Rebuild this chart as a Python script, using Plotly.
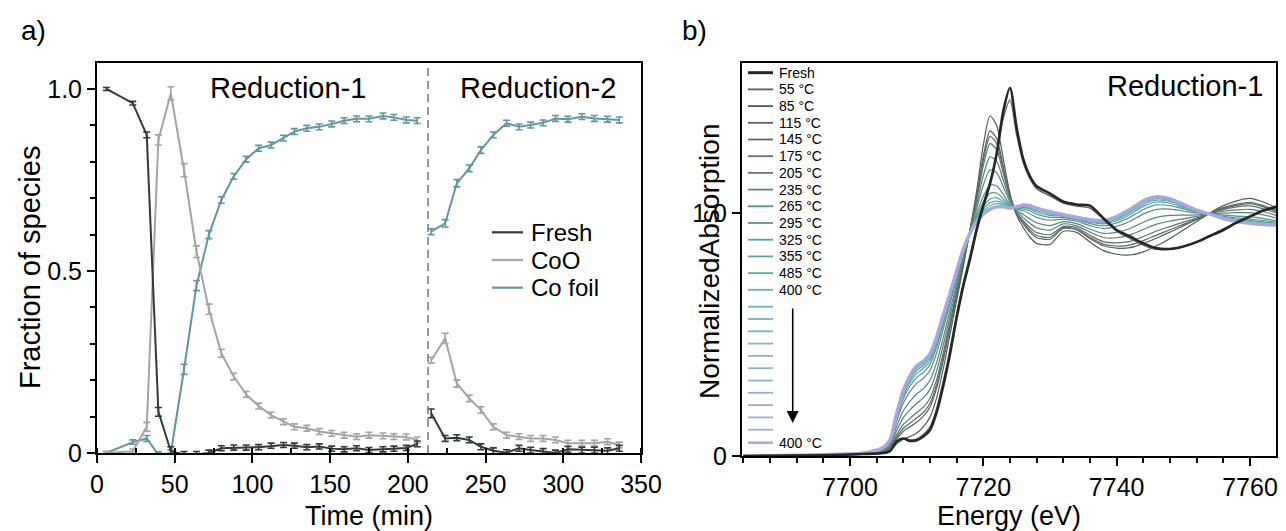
import plotly.graph_objects as go

W, H = 1286, 531

# ---------------- panel a) : fraction of species vs time ----------------
time_red1 = [6, 23, 32, 39.5, 47.5, 56, 64, 72, 80, 88, 96, 104, 112, 120, 127, 135,
             143, 151, 159, 167, 175, 184, 191, 199, 206]
fresh_red1 = [1.0, 0.961, 0.874, 0.113, 0.005, -0.004, -0.004, 0.0, 0.013, 0.015, 0.015, 0.016,
              0.02, 0.022, 0.02, 0.016, 0.018, 0.012, 0.01, 0.013, 0.008, 0.01, 0.012, 0.014, 0.025]
fresh_red1_err = [0.004, 0.005, 0.008, 0.012, 0.012, 0.008, 0.008, 0.008, 0.007, 0.007, 0.007, 0.007,
                  0.007, 0.007, 0.007, 0.007, 0.007, 0.007, 0.007, 0.007, 0.007, 0.007, 0.007, 0.007, 0.008]
coo_red1 = [0.0, 0.005, 0.072, 0.86, 0.988, 0.777, 0.553, 0.395, 0.274, 0.21, 0.161, 0.129,
            0.104, 0.086, 0.072, 0.068, 0.059, 0.054, 0.049, 0.045, 0.049, 0.047, 0.045, 0.044, 0.036]
coo_red1_err = [0.004, 0.006, 0.012, 0.014, 0.018, 0.018, 0.016, 0.014, 0.011, 0.009, 0.008, 0.008,
                0.008, 0.008, 0.008, 0.008, 0.008, 0.008, 0.008, 0.008, 0.008, 0.008, 0.008, 0.008, 0.008]
foil_red1 = [0.0, 0.03, 0.04, -0.005, 0.0, 0.23, 0.46, 0.60, 0.695, 0.76, 0.807, 0.837,
             0.846, 0.865, 0.883, 0.892, 0.896, 0.904, 0.913, 0.918, 0.918, 0.926, 0.922, 0.915, 0.913]
foil_red1_err = [0.004, 0.006, 0.008, 0.008, 0.008, 0.014, 0.014, 0.011, 0.009, 0.008, 0.008, 0.008,
                 0.008, 0.008, 0.008, 0.008, 0.008, 0.008, 0.008, 0.008, 0.008, 0.008, 0.008, 0.008, 0.008]

time_red2 = [215, 224, 231.5, 239.5, 247, 255, 263.5, 271.5, 279, 287, 295, 303, 312, 320, 328.5, 336]
fresh_red2 = [0.109, 0.040, 0.042, 0.036, 0.017, 0.006, 0.001, 0.013, 0.008, 0.004, 0.0, 0.010,
              0.008, 0.008, 0.006, 0.013]
fresh_red2_err = [0.012, 0.008, 0.008, 0.008, 0.008, 0.008, 0.008, 0.008, 0.008, 0.008, 0.008, 0.008,
                  0.008, 0.008, 0.008, 0.008]
coo_red2 = [0.255, 0.315, 0.191, 0.150, 0.118, 0.072, 0.049, 0.045, 0.040, 0.040, 0.036, 0.027,
            0.027, 0.027, 0.031, 0.022]
coo_red2_err = [0.008, 0.014, 0.010, 0.009, 0.009, 0.008, 0.008, 0.008, 0.008, 0.008, 0.008, 0.008,
                0.008, 0.008, 0.008, 0.008]
foil_red2 = [0.608, 0.631, 0.741, 0.782, 0.832, 0.874, 0.906, 0.896, 0.901, 0.907, 0.919, 0.917,
             0.924, 0.919, 0.917, 0.915]
foil_red2_err = [0.008, 0.01, 0.01, 0.009, 0.009, 0.008, 0.008, 0.008, 0.008, 0.008, 0.008, 0.008,
                 0.008, 0.008, 0.008, 0.008]

species_names = ["Fresh", "CoO", "Co foil"]
species_colors = ["#2f3b3b", "#a4a4a4", "#64959f"]
split_time = 213

# ---------------- panel b) : XANES spectra ----------------
energy = [7684, 7696, 7702, 7705, 7706, 7707, 7708, 7709, 7710, 7711, 7712, 7713, 7714, 7715,
          7716, 7717, 7718, 7719, 7720, 7721, 7722, 7723, 7724, 7725, 7726, 7727, 7728, 7730,
          7732, 7734, 7736, 7738, 7740, 7742, 7744, 7746, 7748, 7750, 7752, 7754, 7756, 7758,
          7760, 7762, 7764]
mu_fresh = [0.000, 0.003, 0.008, 0.012, 0.020, 0.060, 0.072, 0.062, 0.065, 0.080, 0.107, 0.180,
            0.290, 0.420, 0.570, 0.700, 0.810, 0.930, 1.030, 1.120, 1.245, 1.420, 1.515, 1.350,
            1.220, 1.150, 1.110, 1.080, 1.046, 1.035, 1.030, 0.978, 0.930, 0.903, 0.875, 0.855,
            0.852, 0.862, 0.880, 0.905, 0.930, 0.960, 0.985, 1.010, 1.025]
mu_55 = [0.000, 0.003, 0.008, 0.013, 0.022, 0.058, 0.072, 0.066, 0.070, 0.088, 0.120, 0.196,
         0.310, 0.440, 0.585, 0.715, 0.825, 0.945, 1.040, 1.130, 1.240, 1.390, 1.465, 1.320,
         1.205, 1.140, 1.100, 1.070, 1.040, 1.028, 1.020, 0.975, 0.925, 0.895, 0.868, 0.850,
         0.850, 0.862, 0.882, 0.908, 0.935, 0.962, 0.988, 1.012, 1.030]
mu_85 = [0.000, 0.003, 0.008, 0.015, 0.025, 0.050, 0.070, 0.080, 0.095, 0.120, 0.160, 0.240,
         0.360, 0.500, 0.640, 0.780, 0.930, 1.090, 1.280, 1.400, 1.360, 1.220, 1.080, 0.990,
         0.940, 0.900, 0.875, 0.870, 0.925, 0.920, 0.880, 0.845, 0.830, 0.827, 0.840, 0.865,
         0.895, 0.930, 0.965, 1.000, 1.030, 1.050, 1.060, 1.045, 1.020]
mu_115 = [0, .003, .009, .018, .031, .070, .102, .120, .139, .163, .202, .280, .395, .527, .659,
          .791, .928, 1.070, 1.234, 1.338, 1.306, 1.189, 1.070, .996, .955, .921, .898, .892,
          .936, .930, .895, .865, .855, .857, .874, .897, .921, .947, .973, .999, 1.022, 1.036,
          1.044, 1.030, 1.009]
mu_145 = [0, .003, .009, .019, .034, .078, .114, .135, .156, .179, .217, .295, .408, .537, .666,
          .795, .927, 1.063, 1.217, 1.315, 1.286, 1.177, 1.067, .998, .960, .929, .907, .900,
          .940, .934, .900, .872, .864, .868, .886, .909, .931, .953, .975, .999, 1.018, 1.031,
          1.038, 1.025, 1.005]
mu_175 = [0, .004, .009, .021, .037, .088, .130, .155, .178, .201, .238, .315, .426, .551, .676,
          .801, .926, 1.053, 1.195, 1.285, 1.260, 1.162, 1.062, 1.001, .968, .939, .919, .911,
          .945, .939, .908, .882, .877, .883, .903, .926, .944, .962, .979, .999, 1.014, 1.025,
          1.029, 1.017, .999]
mu_205 = [0, .004, .010, .024, .043, .105, .158, .190, .216, .239, .274, .350, .457, .575, .693,
          .811, .924, 1.035, 1.155, 1.231, 1.213, 1.134, 1.054, 1.005, .981, .957, .939, .929,
          .955, .947, .921, .899, .898, .910, .932, .954, .967, .976, .986, .998, 1.007, 1.013,
          1.015, 1.005, .989]
mu_235 = [0, .004, .010, .027, .048, .123, .186, .225, .255, .277, .311, .385, .488, .599, .710,
          .821, .922, 1.018, 1.115, 1.177, 1.166, 1.107, 1.045, 1.010, .994, .975, .959, .948,
          .964, .956, .933, .916, .920, .936, .962, .982, .990, .991, .992, .997, .999, 1.001,
          1.001, .992, .979]
mu_265 = [0, .005, .011, .030, .055, .143, .218, .265, .299, .320, .352, .425, .523, .626, .729,
          .832, .920, .998, 1.069, 1.115, 1.112, 1.076, 1.036, 1.016, 1.009, .996, .982, .970,
          .975, .966, .948, .936, .945, .966, .995, 1.015, 1.016, 1.008, 1.000, .996, .991, .987,
          .985, .977, .968]
mu_295 = [0, .005, .011, .032, .058, .154, .236, .288, .323, .344, .376, .448, .543, .641, .740,
          .838, .918, .986, 1.044, 1.081, 1.082, 1.058, 1.030, 1.019, 1.017, 1.008, .995, .982,
          .981, .972, .956, .947, .959, .983, 1.014, 1.033, 1.030, 1.017, 1.004, .996, .986, .980,
          .975, .969, .962]
mu_325 = [0, .005, .012, .033, .061, .161, .248, .303, .340, .360, .391, .463, .556, .651, .747,
          .842, .918, .979, 1.026, 1.057, 1.062, 1.047, 1.027, 1.021, 1.023, 1.016, 1.004, .990,
          .986, .975, .962, .955, .968, .994, 1.027, 1.045, 1.040, 1.023, 1.007, .996, .983, .974,
          .969, .963, .958]
mu_355 = [0, .005, .012, .034, .062, .166, .256, .313, .351, .371, .402, .473, .565, .658, .752,
          .845, .917, .974, 1.015, 1.042, 1.049, 1.039, 1.024, 1.023, 1.027, 1.021, 1.010, .996,
          .988, .978, .966, .959, .974, 1.002, 1.035, 1.053, 1.047, 1.028, 1.009, .995, .981, .971,
          .965, .959, .955]
mu_485 = [0, .005, .012, .034, .063, .170, .262, .320, .359, .379, .410, .480, .571, .663, .755,
          .847, .917, .970, 1.006, 1.030, 1.038, 1.033, 1.022, 1.024, 1.029, 1.025, 1.014, 1.000,
          .990, .980, .968, .963, .979, 1.007, 1.042, 1.059, 1.051, 1.031, 1.010, .995, .979, .968,
          .962, .957, .953]
mu_400 = [0, .005, .012, .035, .065, .175, .270, .330, .370, .390, .420, .490, .580, .670, .760,
          .850, .916, .965, .995, 1.015, 1.025, 1.025, 1.020, 1.025, 1.033, 1.030, 1.020, 1.005,
          .993, .982, .972, .968, .985, 1.015, 1.050, 1.067, 1.058, 1.035, 1.012, .995, .977, .965,
          .958, .953, .950]

spec_labels = ["Fresh", "55 °C", "85 °C", "115 °C", "145 °C", "175 °C", "205 °C", "235 °C",
               "265 °C", "295 °C", "325 °C", "355 °C", "485 °C", "400 °C",
               "", "", "", "", "", "", "", "", "", "", "", "400 °C"]
spec_data = [mu_fresh, mu_55, mu_85, mu_115, mu_145, mu_175, mu_205, mu_235, mu_265, mu_295,
             mu_325, mu_355, mu_485] + [mu_400] * 13
spec_colors = ["#262626", "#5a5f5f", "#505b59", "#56625f", "#5a6a67", "#5c726f", "#5d7b78",
               "#5c8481", "#5a8d8a", "#589693", "#569f9c", "#55a7a4", "#5aaeab", "#62b3b1",
               "#6bb5b4", "#72b6b8", "#78b6bc", "#7eb6c0", "#84b5c4", "#8ab3c8", "#90b1cb",
               "#95afcf", "#9aadd2", "#9eabd5", "#a2aad8", "#a6a9db"]

# ---------------- geometry (pixels) ----------------
A_L, A_R, A_T, A_B = 97, 641, 63, 453
B_L, B_R, B_T, B_B = 742, 1276, 63, 456


def px(x):
    return x / W


def py(y):
    return 1 - y / H


FONT = "Liberation Sans, Arial, sans-serif"
fig = go.Figure()

# panel a traces
segments = [
    (time_red1, [fresh_red1, coo_red1, foil_red1], [fresh_red1_err, coo_red1_err, foil_red1_err]),
    (time_red2, [fresh_red2, coo_red2, foil_red2], [fresh_red2_err, coo_red2_err, foil_red2_err]),
]
for t, ys, errs in segments:
    for k in [2, 1, 0]:
        fig.add_trace(go.Scatter(
            x=t, y=ys[k], mode="lines", xaxis="x", yaxis="y",
            line=dict(color=species_colors[k], width=2),
            error_y=dict(type="data", array=errs[k], color=species_colors[k], thickness=1.6, width=3.5),
            showlegend=False, hoverinfo="skip"))

# panel b traces
widths = [2.6, 1.3] + [1.2] * 11 + [1.4] * 12 + [3.5]
order = list(range(2, 13)) + list(range(13, 26)) + [1, 0]
for i in order:
    fig.add_trace(go.Scatter(
        x=energy, y=spec_data[i], mode="lines", xaxis="x2", yaxis="y2",
        line=dict(color=spec_colors[i], width=widths[i], shape="spline", smoothing=0.7),
        showlegend=False, hoverinfo="skip"))

axis_common = dict(showline=True, linecolor="black", linewidth=2, mirror=True, ticks="outside",
                   ticklen=8, tickwidth=2, tickcolor="black", showgrid=False, zeroline=False,
                   automargin=False, tickfont=dict(size=25, family=FONT, color="black"))

fig.update_layout(
    width=W, height=H, margin=dict(l=0, r=0, t=0, b=0, autoexpand=False),
    paper_bgcolor="white", plot_bgcolor="white", showlegend=False,
    font=dict(family=FONT, color="black"),
    xaxis=dict(domain=[px(A_L), px(A_R)], range=[0, 350], anchor="y", tickmode="linear", tick0=0,
               dtick=50, minor=dict(dtick=25, tick0=0, ticks="inside", ticklen=5, tickwidth=1.5,
                                    tickcolor="black"), **axis_common),
    yaxis=dict(domain=[py(A_B), py(A_T)], range=[0, 1.0714], anchor="x", tickvals=[0, 0.5, 1.0],
               ticktext=["0", "0.5", "1.0"],
               minor=dict(dtick=0.1, tick0=0, ticks="outside", ticklen=5, tickwidth=1.5,
                          tickcolor="black"), **axis_common),
    xaxis2=dict(domain=[px(B_L), px(B_R)], range=[7683.8, 7763.9], anchor="y2", tickmode="linear",
                tick0=7700, dtick=20, minor=dict(dtick=4, tick0=7700, ticks="outside", ticklen=5,
                                                 tickwidth=1.5, tickcolor="black"), **axis_common),
    yaxis2=dict(domain=[py(B_B), py(B_T)], range=[0, 1.617], anchor="x2", tickvals=[0, 1.0],
                ticktext=["0", "1.0"], **axis_common),
)

shapes = []
annotations = []


def ann(text, x, y, size, xanchor="center", yanchor="middle", angle=0):
    annotations.append(dict(text=text, x=px(x), y=py(y), xref="paper", yref="paper",
                            xanchor=xanchor, yanchor=yanchor, textangle=angle, showarrow=False,
                            font=dict(size=size, family=FONT, color="black")))


# dashed separator between the two reductions
shapes.append(dict(type="line", xref="x", yref="y domain", x0=split_time, x1=split_time, y0=0, y1=1,
                   line=dict(color="#777777", width=1.5, dash="8px,5px")))

# panel a legend
for k, name in enumerate(species_names):
    yy = 232.3 + 27.7 * k
    shapes.append(dict(type="line", xref="paper", yref="paper", x0=px(492), x1=px(523),
                       y0=py(yy), y1=py(yy), line=dict(color=species_colors[k], width=2.2)))
    ann(name, 529, yy, 24, xanchor="left")

# panel b legend
leg_y = []
for i in range(14):
    leg_y.append(72.7 + 16.7 * i)
for j in range(11):
    leg_y.append(306.7 + 12.3 * j)
leg_y.append(442.7)
for i, lab in enumerate(spec_labels):
    lw = 3 if i == 0 else (2.5 if i == 25 else 1.8)
    shapes.append(dict(type="line", xref="paper", yref="paper", x0=px(748), x1=px(773),
                       y0=py(leg_y[i]), y1=py(leg_y[i]), line=dict(color=spec_colors[i], width=lw)))
    if lab:
        ann(lab, 777, leg_y[i], 14, xanchor="left")

annotations.append(dict(x=px(792.7), y=py(423), xref="paper", yref="paper", ax=0, ay=-116,
                        axref="pixel", ayref="pixel", text="", showarrow=True, arrowhead=2,
                        arrowsize=1.6, arrowwidth=1.5, arrowcolor="black"))

# texts
ann("a)", 33, 30, 28)
ann("b)", 694, 30, 28)
ann("Reduction-1", 288, 88, 29)
ann("Reduction-2", 538, 88, 29)
ann("Reduction-1", 1265, 86, 29, xanchor="right")
ann("Time (min)", (A_L + A_R) / 2, 516, 27)
ann("Energy (eV)", (B_L + B_R) / 2, 516, 27)
ann("Fraction of species", 30, 268, 29, angle=-90)
ann("NormalizedAbsorption", 709, 262, 28, angle=-90)

fig.update_layout(shapes=shapes, annotations=annotations)
fig.write_html("out.html")
